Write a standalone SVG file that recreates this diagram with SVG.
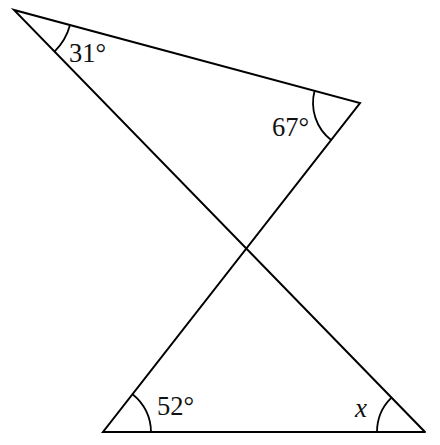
<svg xmlns="http://www.w3.org/2000/svg" width="440" height="445" viewBox="0 0 440 445">
<style>
.ln{fill:none;stroke:#000;stroke-width:2;stroke-linecap:round;stroke-linejoin:miter}
.arc{fill:none;stroke:#000;stroke-width:1.8}
.t{font-family:"Liberation Serif",serif;font-size:26.5px;fill:#111}
.v{font-family:"Liberation Serif",serif;font-size:27px;font-style:italic;fill:#111}
</style>
<rect width="440" height="445" fill="#fff"/>
<g id="lines">
<polyline class="ln" points="425,432 14,10 360,103 103,432 425,432"/>
</g>
<g id="angles">
<path class="arc" d="M70,25.1 A58,58 0 0 1 54.5,51.6"/>
<path class="arc" d="M314.6,90.8 A47,47 0 0 0 331.1,140"/>
<path class="arc" d="M132.5,394.2 A48,48 0 0 1 151,432"/>
<path class="arc" d="M391.5,397.6 A48,48 0 0 0 377,432"/>
</g>
<g id="labels">
<text class="t" x="69" y="61.5">31°</text>
<text class="t" x="272" y="136">67°</text>
<text class="t" x="157" y="415">52°</text>
<text class="v" x="355" y="417">x</text>
</g>
</svg>
